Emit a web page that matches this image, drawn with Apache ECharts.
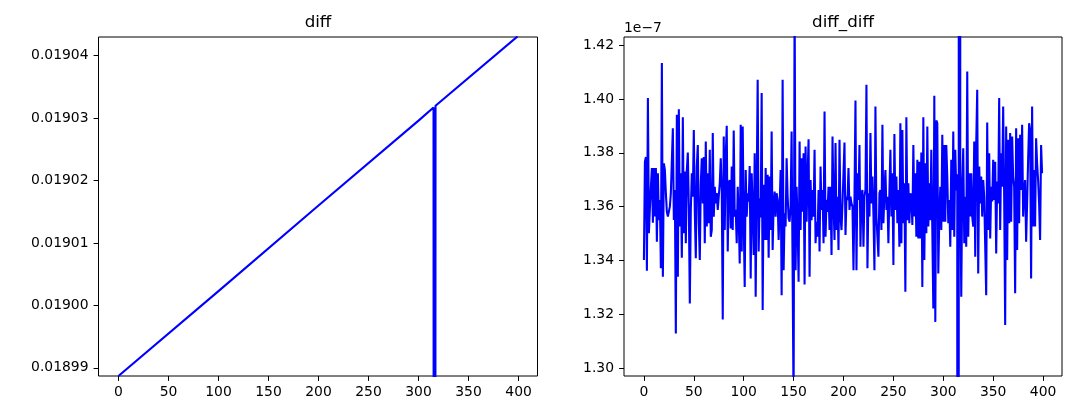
<!DOCTYPE html>
<html><head><meta charset="utf-8">
<script src="https://cdn.jsdelivr.net/npm/echarts@6/dist/echarts.min.js"></script>
<style>html,body{margin:0;padding:0;background:#fff}#c{width:1081px;height:408px}</style>
</head><body><div id="c"></div>
<script>
// ---- data ----
const xTicks = [0, 50, 100, 150, 200, 250, 300, 350, 400];
const diffYTicks = [0.01899, 0.01900, 0.01901, 0.01902, 0.01903, 0.01904];
const ddYTicks = [1.30, 1.32, 1.34, 1.36, 1.38, 1.40, 1.42];
const ddExponent = '1e\u22127';

// "diff": values read at key indices along the line (incl. the drop at 316)
const diffIdx  = [0, 100, 200, 300, 315, 316, 317, 399];
const diffVals = [0.0189887, 0.0190023, 0.0190160, 0.0190296, 0.0190317, 0.0186000, 0.0190320, 0.0190431];

// "diff_diff" values in units of 1e-7, index 0..399
const diffDiffVals = [
1.3402,1.3767,1.3784,1.3362,1.4003,1.3501,1.3594,1.3674,1.3743,1.3540,
1.3743,1.3563,1.3743,1.3470,1.3724,1.3550,1.3625,1.3371,1.4133,1.3340,
1.3761,1.3736,1.3650,1.3581,1.3563,1.3569,1.3600,1.3650,1.3655,1.3891,
1.3550,1.3662,1.3129,1.3941,1.3340,1.3962,1.3526,1.3724,1.3410,1.3932,
1.3501,1.3730,1.3464,1.3736,1.3801,1.3600,1.3240,1.3588,1.3724,1.3637,
1.3885,1.3581,1.3408,1.3749,1.3829,1.3538,1.3402,1.3687,1.3780,1.3612,
1.3784,1.3464,1.3842,1.3526,1.3724,1.3538,1.3811,1.3488,1.3513,1.3873,
1.3563,1.3674,1.3612,1.3650,1.3588,1.3588,1.3687,1.3780,1.3662,1.3181,
1.3860,1.3513,1.3786,1.3900,1.3433,1.3687,1.3699,1.3519,1.3749,1.3513,
1.3883,1.3563,1.3588,1.3464,1.3674,1.3560,1.3389,1.3904,1.3433,1.3898,
1.3550,1.3302,1.3736,1.3563,1.3650,1.3619,1.3751,1.3333,1.3724,1.3590,
1.3420,1.3798,1.3265,1.3680,1.4071,1.3433,1.3631,1.3560,1.4022,1.3216,
1.3681,1.3476,1.3743,1.3476,1.3718,1.3410,1.3712,1.3513,1.3879,1.3439,
1.3610,1.3656,1.3563,1.3650,1.3625,1.3476,1.3600,1.3736,1.3271,1.4071,
1.3364,1.3575,1.3526,1.3780,1.3640,1.3557,1.3544,1.3600,1.3879,1.3364,
1.2850,1.4400,1.3364,1.3674,1.3538,1.3321,1.3842,1.3513,1.3780,1.3581,
1.3798,1.3311,1.3823,1.3544,1.3712,1.3850,1.3340,1.3699,1.3550,1.3662,
1.3563,1.3811,1.3464,1.3544,1.3488,1.3662,1.3433,1.3749,1.3588,1.3662,
1.3464,1.3953,1.3488,1.3625,1.3580,1.3674,1.3513,1.3674,1.3420,1.3860,
1.3612,1.3476,1.3836,1.3513,1.3637,1.3439,1.3848,1.3563,1.3513,1.3612,
1.3612,1.3838,1.3495,1.3637,1.3625,1.3743,1.3588,1.3637,1.3612,1.3600,
1.3364,1.3637,1.3994,1.3364,1.3724,1.3625,1.3829,1.3451,1.3650,1.3662,
1.3451,1.3637,1.3662,1.4053,1.3371,1.3650,1.3563,1.3873,1.3612,1.3712,
1.3575,1.3364,1.3972,1.3563,1.3563,1.3414,1.3650,1.3662,1.3513,1.3904,
1.3538,1.3650,1.3736,1.3588,1.3637,1.3464,1.3656,1.3811,1.3563,1.3724,
1.3383,1.3870,1.3588,1.3712,1.3538,1.3662,1.3451,1.3910,1.3464,1.3885,
1.3538,1.3687,1.3284,1.3932,1.3550,1.3687,1.3538,1.3650,1.3637,1.3532,
1.3829,1.3563,1.3724,1.3488,1.3774,1.3482,1.3767,1.3482,1.3801,1.3302,
1.3932,1.3402,1.3761,1.3501,1.3898,1.3526,1.3687,1.3550,1.3811,1.3513,
1.3222,1.4012,1.3172,1.3920,1.3910,1.3352,1.3563,1.3674,1.3513,1.3867,
1.3544,1.3829,1.3544,1.3829,1.3712,1.3538,1.3625,1.3451,1.3774,1.3513,
1.3879,1.3488,1.3811,1.3660,1.3720,-3.0000,6.0000,1.3720,1.3265,1.3687,
1.3817,1.3464,1.3637,1.3451,1.4102,1.3488,1.3724,1.3563,1.3724,1.3563,
1.3526,1.3842,1.3414,1.3836,1.4034,1.3352,1.3749,1.3612,1.3712,1.3563,
1.3699,1.3637,1.3637,1.3271,1.3912,1.3513,1.3798,1.3482,1.3674,1.3619,
1.3774,1.3625,1.3767,1.3426,1.3693,1.3612,1.4003,1.3513,1.3798,1.3674,
1.3972,1.3637,1.3160,1.3898,1.3402,1.3848,1.3538,1.3873,1.3544,1.3860,
1.3712,1.3674,1.3278,1.3891,1.3439,1.3854,1.3538,1.3867,1.3662,1.3904,
1.3563,1.3650,1.3699,1.3470,1.3612,1.3774,1.3910,1.3885,1.3333,1.3972,
1.3526,1.3736,1.3526,1.3854,1.3761,1.3699,1.3612,1.3476,1.3829,1.3724
];

// ---- chart ----
const FONT = 'DejaVu Sans';
const BLUE = '#0000ff';
const chart = echarts.init(document.getElementById('c'));

function xAxisCfg(gi) {
  return {
    gridIndex: gi, type: 'value', min: -19.95, max: 418.95,
    axisLine: { show: false, onZero: false }, splitLine: { show: false },
    axisTick: { show: true, length: 4.9, lineStyle: { color: '#000', width: 1 }, customValues: xTicks },
    axisLabel: { customValues: xTicks, margin: 9.5, color: '#000', fontFamily: FONT, fontSize: 13.9 }
  };
}
function yAxisCfg(gi, min, max, ticks, digits) {
  return {
    gridIndex: gi, type: 'value', min: min, max: max, scale: true,
    axisLine: { show: false, onZero: false }, splitLine: { show: false },
    axisTick: { show: true, length: 4.9, lineStyle: { color: '#000', width: 1 }, customValues: ticks },
    axisLabel: { customValues: ticks, margin: 10, color: '#000', fontFamily: FONT, fontSize: 13.9,
      formatter: v => Number(v).toFixed(digits) }
  };
}

chart.setOption({
  animation: false,
  backgroundColor: '#fff',
  grid: [
    { left: 98.5, top: 37, width: 439, height: 339, show: true, borderColor: '#000', borderWidth: 1, backgroundColor: 'transparent' },
    { left: 624, top: 37, width: 438, height: 339, show: true, borderColor: '#000', borderWidth: 1, backgroundColor: 'transparent' }
  ],
  xAxis: [xAxisCfg(0), xAxisCfg(1)],
  yAxis: [
    yAxisCfg(0, 0.0189887, 0.0190430, diffYTicks, 5),
    yAxisCfg(1, 1.2971, 1.4230, ddYTicks, 2)
  ],
  series: [
    { type: 'line', xAxisIndex: 0, yAxisIndex: 0, showSymbol: false, clip: true,
      lineStyle: { color: BLUE, width: 2.08 }, itemStyle: { color: BLUE },
      data: diffIdx.map((x, i) => [x, diffVals[i]]) },
    { type: 'line', xAxisIndex: 1, yAxisIndex: 1, showSymbol: false, clip: true,
      lineStyle: { color: BLUE, width: 2.08 }, itemStyle: { color: BLUE },
      data: diffDiffVals.map((v, i) => [i, v]) }
  ],
  graphic: [
    { type: 'text', x: 318, y: 23, style: { text: 'diff', fill: '#000', font: '16.7px "DejaVu Sans"', align: 'center', verticalAlign: 'middle' } },
    { type: 'text', x: 843, y: 23, style: { text: 'diff_diff', fill: '#000', font: '16.7px "DejaVu Sans"', align: 'center', verticalAlign: 'middle' } },
    { type: 'text', x: 624, y: 28, style: { text: ddExponent, fill: '#000', font: '13.9px "DejaVu Sans"', align: 'left', verticalAlign: 'middle' } }
  ]
});
</script>
</body></html>
